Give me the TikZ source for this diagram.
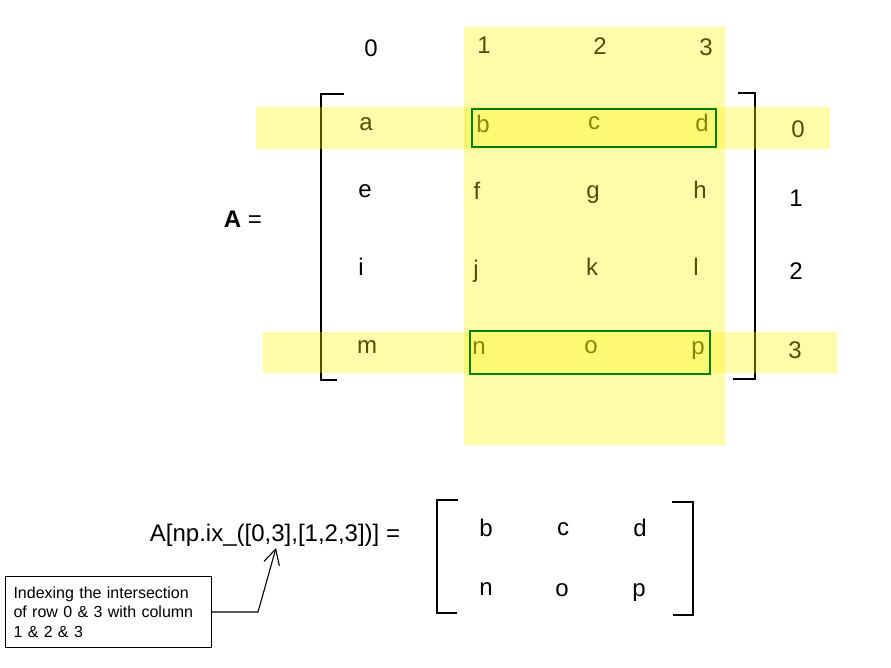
\documentclass[tikz,border=0pt]{standalone}
\usepackage{fontspec}
\setmainfont{Liberation Sans}
\usetikzlibrary{arrows.meta}
\begin{document}
\begin{tikzpicture}[x=1pt,y=-1pt,
  lbl/.style={font=\fontsize{24}{28}\selectfont, inner sep=0pt},
  band/.style={fill=yellow, fill opacity=0.33},
  selbox/.style={draw=green!50!black, line width=1.5pt},
  brk/.style={draw=black, line width=1.3pt},
  note/.style={draw, line width=1.1pt, font=\fontsize{16}{19.5}\selectfont, align=left,
    text width=190pt, inner xsep=8pt, minimum height=71pt, anchor=north west}]
\useasboundingbox (0,0) rectangle (891,668);
% column labels
\node[lbl] (c0) at (371,48) {0};
\node[lbl] (c1) at (484,45) {1};
\node[lbl] (c2) at (600,46) {2};
\node[lbl] (c3) at (706,47) {3};
% row labels
\node[lbl] (r0) at (798,129) {0};
\node[lbl] (r1) at (796,198) {1};
\node[lbl] (r2) at (796,271) {2};
\node[lbl] (r3) at (795,350) {3};
% matrix entries
\node[lbl] (a) at (366,124) {a};
\node[lbl] (b) at (483,124) {b};
\node[lbl] (c) at (594,123) {c};
\node[lbl] (d) at (702,123) {d};
\node[lbl] (e) at (365,191) {e};
\node[lbl] (f) at (477,191) {f};
\node[lbl, anchor=base] (g) at (593,199) {g};
\node[lbl] (h) at (700,190) {h};
\node[lbl] (i) at (361,267) {i};
\node[lbl, anchor=base] (j) at (476,277) {j};
\node[lbl] (k) at (592,267) {k};
\node[lbl] (l) at (696,267) {l};
\node[lbl] (m) at (367,347) {m};
\node[lbl] (n) at (479,348) {n};
\node[lbl] (o) at (591,347) {o};
\node[lbl, anchor=base] (p) at (698,354.5) {p};
\node[lbl] (Aeq) at (243,219) {\textbf{A} =};
% brackets of A
\draw[brk] (344,94) -- (321,94) -- (321,380) -- (337,380);
\draw[brk] (738,93) -- (755,93) -- (755,379) -- (733,379);
% bands
\fill[band] (464,27) rectangle (725,445);
\fill[band] (256,107) rectangle (830,149);
\fill[band] (263,332) rectangle (837,373);
% selection boxes
\draw[selbox] (472,109) rectangle (716,147);
\draw[selbox] (470,331) rectangle (710,374);
% bottom expression
\node[lbl] (expr) at (275,535) {A[np.ix\_([0,3],[1,2,3])] =};
\draw[brk] (458,500) -- (437,500) -- (437,613) -- (457,613);
\draw[brk] (672,502) -- (693,502) -- (693,615) -- (673,615);
\node[lbl] (b2) at (486,528) {b};
\node[lbl] (c2b) at (563,529) {c};
\node[lbl] (d2) at (640,528) {d};
\node[lbl] (n2) at (486,589) {n};
\node[lbl] (o2) at (562,590) {o};
\node[lbl, anchor=base] (p2) at (639,596.5) {p};
% callout
\node[note] (note) at (5,576) {Indexing the intersection\\of row 0 \& 3 with column\\1 \& 2 \& 3};
\coordinate (bend) at (258,612);
\coordinate (tip) at (276,548);
\draw[line width=1.1pt, -{Straight Barb[length=15pt,width=16pt]}] (note.east |- bend) -- (bend) -- (tip);
\end{tikzpicture}
\end{document}
